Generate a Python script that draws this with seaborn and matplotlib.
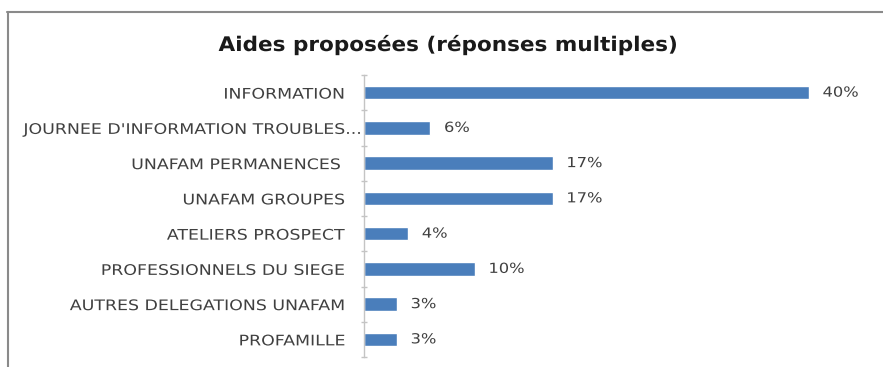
import matplotlib
matplotlib.use("Agg")
import matplotlib.pyplot as plt
from matplotlib.lines import Line2D
from matplotlib.patheffects import AbstractPathEffect
from matplotlib.transforms import Affine2D, ScaledTranslation
import seaborn as sns
import pandas as pd
import numpy as np

categories = [
    "INFORMATION",
    "JOURNEE D'INFORMATION TROUBLES...",
    "UNAFAM PERMANENCES ",
    "UNAFAM GROUPES",
    "ATELIERS PROSPECT",
    "PROFESSIONNELS DU SIEGE",
    "AUTRES DELEGATIONS UNAFAM",
    "PROFAMILLE",
]
values = [40, 6, 17, 17, 4, 10, 3, 3]
value_labels = ["40%", "6%", "17%", "17%", "4%", "10%", "3%", "3%"]
title = "Aides proposées (réponses multiples)"


class Stretch(AbstractPathEffect):
    """Horizontally stretch a text path around an anchor (left/right/center)."""

    def __init__(self, sx, anchor="left"):
        super().__init__()
        self.sx = sx
        self.anchor = anchor

    def draw_path(self, renderer, gc, tpath, affine, rgbFace=None):
        ext = tpath.get_extents()
        if self.anchor == "right":
            x0 = ext.x1
        elif self.anchor == "center":
            x0 = (ext.x0 + ext.x1) / 2
        else:
            x0 = ext.x0
        t = Affine2D().translate(-x0, 0).scale(self.sx, 1).translate(x0, 0) + affine
        renderer.draw_path(gc, tpath, t, rgbFace)


sns.set_theme(style="white")
plt.rcParams['font.family'] = ['DejaVu Sans']

W, H = 883, 367
fig = plt.figure(figsize=(W / 100, H / 100), dpi=100)
ax = fig.add_axes([363.5 / W, 1 - 357 / H, (870 - 363.5) / W, (357 - 75) / H])

df = pd.DataFrame({"cat": categories, "val": values})
sns.barplot(data=df, y="cat", x="val", orient="h", color="#4a7ebb",
            saturation=1, width=0.38, ax=ax)

ax.set_xlim(0, 45.5)
ax.set_ylim(7.5, -0.5)
ax.set_xlabel("")
ax.set_ylabel("")
ax.set_xticks([])
for s in ["top", "right", "bottom"]:
    ax.spines[s].set_visible(False)
ax.spines["left"].set_color("#c4c4c4")
ax.spines["left"].set_linewidth(1)

ax.tick_params(axis="y", which="major", left=False, length=0, pad=13.5,
               labelsize=10.5, labelcolor="#404040")
ax.set_yticks(np.arange(-0.5, 8, 1), minor=True)
ax.tick_params(axis="y", which="minor", left=True, length=5, direction="inout",
               color="#c4c4c4", width=1)

for i, lab in enumerate(ax.get_yticklabels()):
    lab.set_path_effects([Stretch(1.19, "right")])
    if lab.get_text().startswith("JOURNEE"):
        lab.set_transform(lab.get_transform()
                          + ScaledTranslation(17 / 100, 0, fig.dpi_scale_trans))

for i, (v, lab) in enumerate(zip(values, value_labels)):
    t = ax.annotate(lab, xy=(v, i), xytext=(10, 0), textcoords="offset points",
                    ha="left", va="center", fontsize=10, color="#404040")
    t.set_path_effects([Stretch(1.17, "left")])

tt = fig.text(449 / W, 1 - 45 / H, title, ha="center", va="center",
              fontsize=14.5, fontweight="bold", color="#1a1a1a")
tt.set_path_effects([Stretch(1.07, "center")])

# chart frame (top and left borders)
fig.add_artist(Line2D([7 / W, 1], [1 - 12 / H, 1 - 12 / H],
                      transform=fig.transFigure, color="#8a8a8a", lw=1.5))
fig.add_artist(Line2D([8 / W, 8 / W], [0, 1 - 12 / H],
                      transform=fig.transFigure, color="#8a8a8a", lw=1.5))

fig.savefig("out.png", dpi=100)
